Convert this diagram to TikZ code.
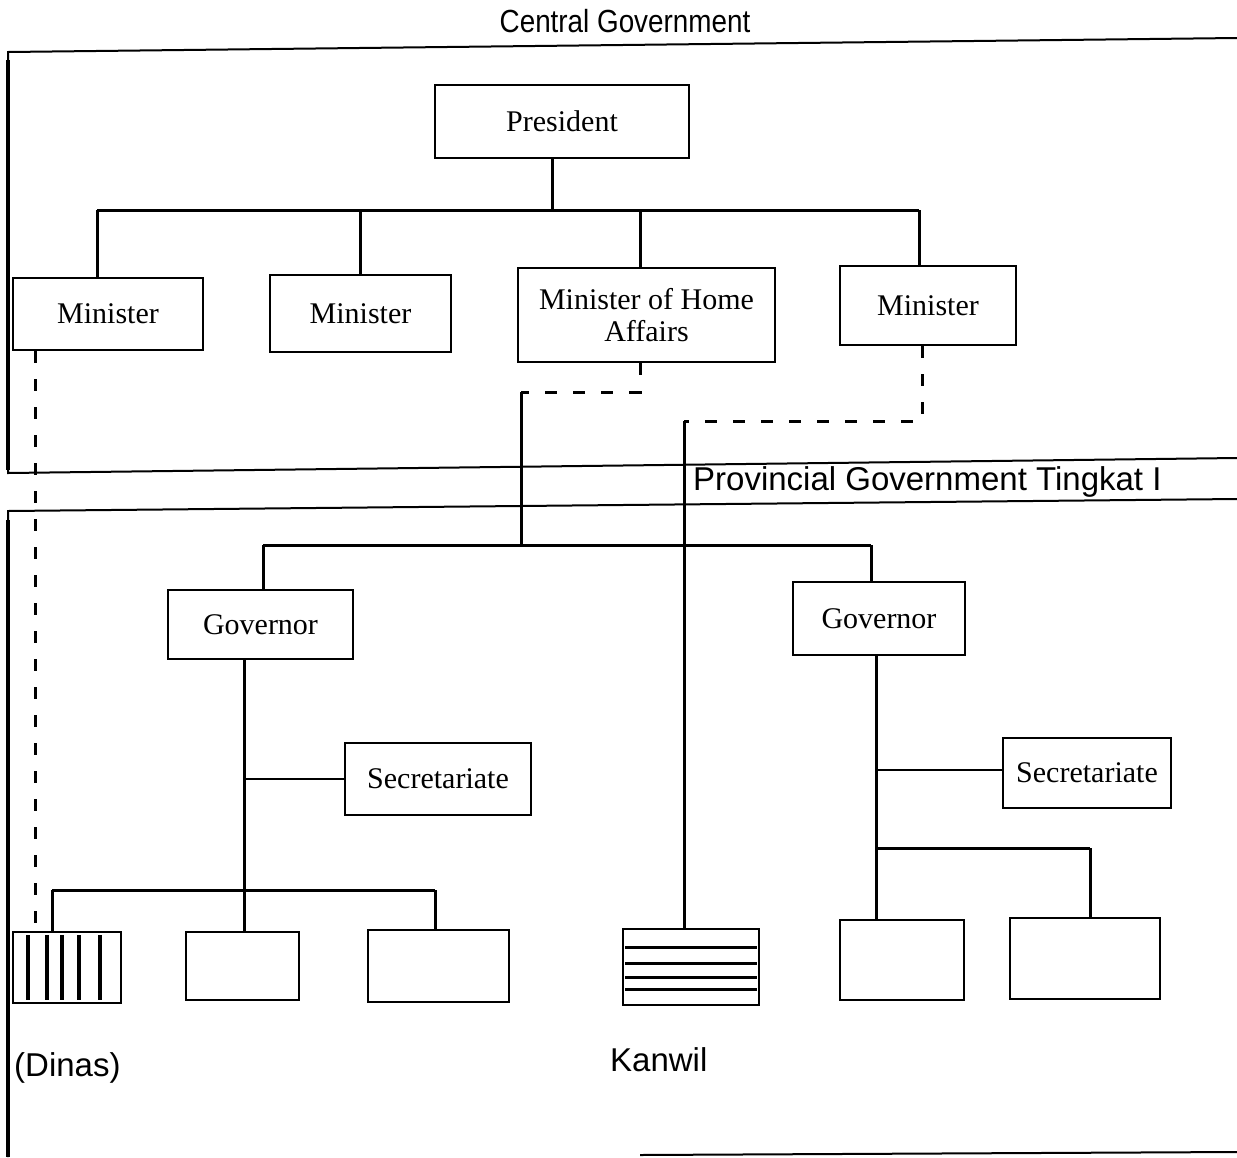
\documentclass[tikz,border=0pt]{standalone}
\usepackage{fontspec}
\setmainfont{Liberation Serif}
\newfontfamily\sansf{Liberation Sans}
\newfontfamily\sansnarrow[FakeStretch=0.87]{Liberation Sans}
\begin{document}
\begin{tikzpicture}[x=1pt,y=-1pt,
  box/.style={draw, line width=2.5pt, inner sep=0pt, align=center,
              font=\fontsize{30}{32}\selectfont},
  link/.style={line width=3pt},
  thinlink/.style={line width=1.6pt},
  dashlink/.style={line width=3pt, dash pattern=on 12pt off 16pt},
  frame/.style={line width=2pt},
  caption/.style={inner sep=0pt, font=\sansf\fontsize{33}{36}\selectfont}]
\useasboundingbox (0,0) rectangle (1237,1157);

% ---- frames of the two levels of government ----
\draw[frame] (1237,38) -- (8,52) -- (8,473) -- (1237,458);
\draw[frame] (1237,499) -- (8,511) -- (8,1157);
\draw[frame] (640,1155) -- (1237,1152);
\draw[line width=3.5pt] (8,60) -- (8,470);
\draw[line width=3.5pt] (8,520) -- (8,1157);

\node[inner sep=0pt, font=\sansnarrow\fontsize{32}{34}\selectfont] (central) at (625,21) {Central Government};
\node[caption, anchor=base west] (prov) at (693,490) {Provincial Government Tingkat I};

% ---- central level ----
\node[box, minimum width=254pt, minimum height=73pt] (pres) at (562,121.5) {President};
\node[box, minimum width=190pt, minimum height=72pt] (min1) at (108,314) {Minister};
\node[box, minimum width=181pt, minimum height=77pt] (min2) at (360.5,313.5) {Minister};
\node[box, minimum width=257pt, minimum height=94pt] (mha) at (646.5,315) {Minister of Home\\Affairs};
\node[box, minimum width=176pt, minimum height=79pt] (min4) at (928,305.5) {Minister};

% ---- provincial level ----
\node[box, minimum width=185pt, minimum height=69pt] (gov1) at (260.5,624.5) {Governor};
\node[box, minimum width=172pt, minimum height=73pt] (gov2) at (879,618.5) {Governor};
\node[box, minimum width=186pt, minimum height=72pt] (sec1) at (438,779) {Secretariate};
\node[box, minimum width=168pt, minimum height=70pt] (sec2) at (1087,773) {Secretariate};

\node[box, minimum width=108pt, minimum height=71pt] (dinas) at (67,967.5) {};
\node[box, minimum width=113pt, minimum height=68pt] (unitb) at (242.5,966) {};
\node[box, minimum width=141pt, minimum height=72pt] (unitc) at (438.5,966) {};
\node[box, minimum width=136pt, minimum height=76pt] (kanwil) at (691,967) {};
\node[box, minimum width=124pt, minimum height=80pt] (unite) at (902,960) {};
\node[box, minimum width=150pt, minimum height=81pt] (unitf) at (1085,958.5) {};

% stripes of the Dinas and Kanwil offices
\foreach \x in {28,47,62,79,100}
  \draw[line width=3.5pt] (\x,935) -- (\x,1000);
\foreach \y in {947,963,977,989}
  \draw[line width=3pt] (625,\y) -- (757,\y);

\node[caption, anchor=base west] (dinaslbl) at (14,1076) {(Dinas)};
\node[caption, anchor=base west] (kanwillbl) at (610,1071) {Kanwil};

% ---- connectors: president to ministers ----
\coordinate (pb) at (552,210);
\coordinate (b1) at (97,210);
\coordinate (b2) at (360,210);
\coordinate (b3) at (640,210);
\coordinate (b4) at (919,210);
\draw[link] (pres.south -| pb) -- (pb);
\draw[link] (b1) -- (b4);
\draw[link] (b1) -- (b1 |- min1.north);
\draw[link] (b2) -- (b2 |- min2.north);
\draw[link] (b3) -- (b3 |- mha.north);
\draw[link] (b4) -- (b4 |- min4.north);

% ---- minister to dinas (dashed) ----
\coordinate (dd) at (35,0);
\draw[dashlink] (min1.south -| dd) -- (dinas.north -| dd);

% ---- minister of home affairs to governors ----
\coordinate (mk) at (640,392);
\coordinate (mj) at (521,392);
\coordinate (gb) at (521,545);
\coordinate (g1) at (263,545);
\coordinate (g2) at (871,545);
\draw[dashlink] (mha.south -| mk) -- (mk) -- (mj);
\draw[link] (mj) -- (gb);
\draw[link] (g1) -- (g2);
\draw[link] (g1) -- (g1 |- gov1.north);
\draw[link] (g2) -- (g2 |- gov2.north);

% ---- minister to kanwil ----
\coordinate (kk) at (922,421);
\coordinate (kj) at (684,421);
\draw[dashlink] (min4.south -| kk) -- (kk) -- (kj);
\draw[link] (kj) -- (kj |- kanwil.north);

% ---- governor 1 ----
\coordinate (v1) at (244,0);
\coordinate (s1) at (244,779);
\coordinate (u1) at (52,890);
\coordinate (u3) at (435,890);
\draw[link] (gov1.south -| v1) -- (unitb.north -| v1);
\draw[thinlink] (s1) -- (sec1.west);
\draw[link] (u1) -- (u3);
\draw[link] (u1) -- (u1 |- dinas.north);
\draw[link] (u3) -- (u3 |- unitc.north);

% ---- governor 2 ----
\coordinate (v2) at (876,0);
\coordinate (s2) at (876,770);
\coordinate (u5) at (876,848);
\coordinate (u6) at (1090,848);
\draw[link] (gov2.south -| v2) -- (unite.north -| v2);
\draw[thinlink] (s2) -- (s2 -| sec2.west);
\draw[link] (u5) -- (u6);
\draw[link] (u6) -- (u6 |- unitf.north);
\end{tikzpicture}
\end{document}
